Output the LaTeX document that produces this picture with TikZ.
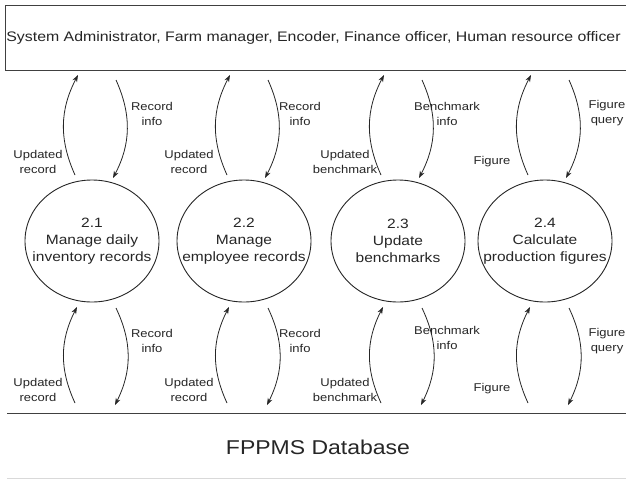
\documentclass[tikz,border=0pt]{standalone}
\usepackage{fontspec}
\setmainfont{Liberation Sans}
\newfontfamily\dfd[FakeStretch=1.15]{Liberation Sans}
\usetikzlibrary{arrows.meta}
\begin{document}
\begin{tikzpicture}[x=1pt,y=-1pt,
  proc/.style={inner sep=0pt,align=center,text=black!85,font=\dfd\fontsize{13.5}{17}\selectfont},
  bubble/.style={draw=black!85,line width=0.9pt},
  flow/.style={draw=black!85,line width=0.8pt,-{Stealth[length=7pt,width=5pt]},bend left=26},
  lbl/.style={align=center,inner sep=0pt,text=black!85,font=\dfd\fontsize{11.3}{15}\selectfont}]
\clip (0,0) rectangle (626,480);
\fill[white] (0,0) rectangle (626,480);
% external entity
\node[draw=black!75,line width=0.9pt,minimum width=640pt,minimum height=65pt,anchor=north west,inner sep=0pt] (actors) at (5,5) {};
\node[inner sep=0pt,text=black!85,font=\dfd\fontsize{13.8}{16}\selectfont] (actorstext) at (313.5,38)
  {System Administrator, Farm manager, Encoder, Finance officer, Human resource officer};
% data store
\draw[black!75,line width=1pt] (7,413) -- (640,413);
\draw[black!15,line width=1pt] (7,478) -- (640,478);
\node[inner sep=0pt,text=black!85,font=\dfd\fontsize{20}{24}\selectfont] (db) at (318,447) {FPPMS Database};
% processes
\node[proc] (p1) at (92,241) {2.1\\Manage daily\\inventory records};
\node[proc] (p2) at (244,241) {2.2\\Manage\\employee records};
\node[proc] (p3) at (398,241) {2.3\\Update\\benchmarks};
\node[proc] (p4) at (545,241) {2.4\\Calculate\\production figures};
\foreach \i in {1,2,3,4}{
  \draw[bubble] (p\i.center) ellipse [x radius=67, y radius=61];
}
% flows
\foreach \i/\cx in {1/92,2/244,3/398,4/545}{
  \coordinate (tus\i) at (\cx-17,175);
  \coordinate (tue\i) at (\cx-14,75);
  \coordinate (tds\i) at (\cx+24,80);
  \coordinate (tde\i) at (\cx+21,178);
  \coordinate (bus\i) at (\cx-17,403);
  \coordinate (bue\i) at (\cx-15,307);
  \coordinate (bds\i) at (\cx+24,308);
  \coordinate (bde\i) at (\cx+23,405);
  \draw[flow] (tus\i) to (tue\i);
  \draw[flow] (tds\i) to (tde\i);
  \draw[flow] (bus\i) to (bue\i);
  \draw[flow] (bds\i) to (bde\i);
}
% labels, top
\node[lbl] (l1a) at (38,161.5) {Updated\\record};
\node[lbl] (l1b) at (152,113.5) {Record\\info};
\node[lbl] (l2a) at (189,161.5) {Updated\\record};
\node[lbl] (l2b) at (300,113.5) {Record\\info};
\node[lbl] (l3a) at (345,161.5) {Updated\\benchmark};
\node[lbl] (l3b) at (447,113.5) {Benchmark\\info};
\node[lbl] (l4a) at (492,162) {Figure};
\node[lbl] (l4b) at (607,113.5) {Figure\\query};
% labels, bottom
\node[lbl] (m1a) at (38,389.5) {Updated\\record};
\node[lbl] (m1b) at (152,341) {Record\\info};
\node[lbl] (m2a) at (189,389.5) {Updated\\record};
\node[lbl] (m2b) at (300,341) {Record\\info};
\node[lbl] (m3a) at (345,389.5) {Updated\\benchmark};
\node[lbl] (m3b) at (447,337.5) {Benchmark\\info};
\node[lbl] (m4a) at (492,389) {Figure};
\node[lbl] (m4b) at (607,341) {Figure\\query};
\end{tikzpicture}
\end{document}
